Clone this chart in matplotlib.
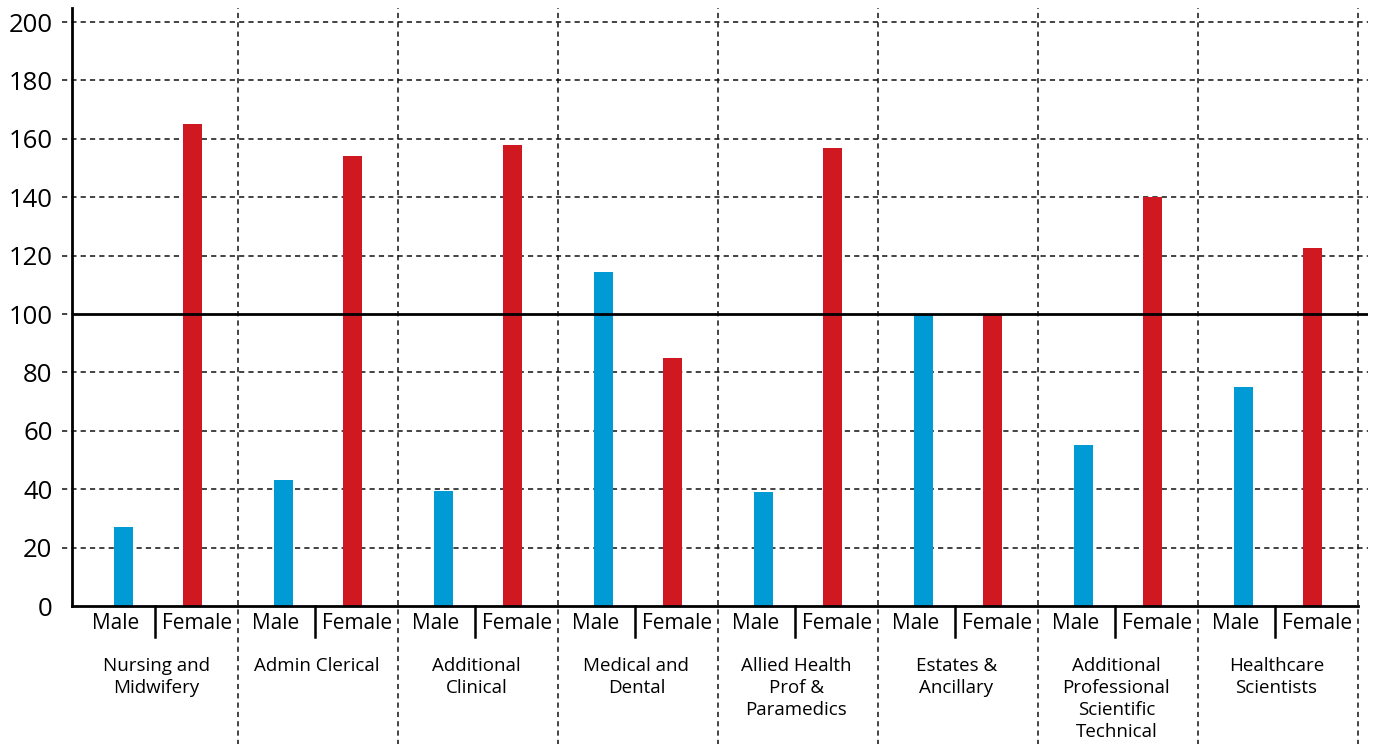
import matplotlib
matplotlib.use("Agg")
import matplotlib.pyplot as plt
import numpy as np

plt.rcParams['font.family'] = ['Open Sans', 'DejaVu Sans']

# Pay gap index by staff group (100 = parity)
groups = [
    "Nursing and\nMidwifery",
    "Admin Clerical",
    "Additional\nClinical",
    "Medical and\nDental",
    "Allied Health\nProf &\nParamedics",
    "Estates &\nAncillary",
    "Additional\nProfessional\nScientific\nTechnical",
    "Healthcare\nScientists",
]
male = [27, 43, 39.5, 114.5, 39, 100, 55, 75]
female = [165, 154, 158, 85, 157, 100, 140, 122.5]
yticks = [0, 20, 40, 60, 80, 100, 120, 140, 160, 180, 200]

blue = "#009ad4"
red = "#d01820"
dash = (0, (3.4, 2.7))

W, H = 1375, 744
fig = plt.figure(figsize=(W / 100, H / 100), dpi=100)
ax = fig.add_axes([72 / W, 1 - 606 / H, (1368 - 72) / W, (606 - 8) / H])

x0, x1 = -0.0375, 8.0625
ax.set_xlim(x0, x1)
ax.set_ylim(0, 204.8)

n = len(groups)
idx = np.arange(n)
ax.bar(idx + 0.285, male, width=0.12, color=blue, zorder=2)
ax.bar(idx + 0.715, female, width=0.12, color=red, zorder=2)

# horizontal dashed grid, poking out left of the axis like ticks
for v in yticks:
    if v in (0, 100):
        continue
    ax.plot([x0 - 10 / 160, x1], [v, v], color="#111111", lw=1.1,
            linestyle=dash, clip_on=False, zorder=1)
ax.plot([x0 - 10 / 160, x0], [100, 100], color="#111111", lw=1.1,
        linestyle=dash, clip_on=False, zorder=1)
ax.plot([x0, x1], [100, 100], color="black", lw=2.0, zorder=3)

# group separators run down through the label area
for i in range(1, n + 1):
    ax.plot([i, i], [-50, 204.8], color="#111111", lw=1.1, linestyle=dash,
            clip_on=False, zorder=1)

# small divider between Male and Female labels
for i in range(n):
    ax.plot([i + 0.48, i + 0.48], [0, -10.5], color="black", lw=1.8,
            clip_on=False, zorder=3)
    ax.text(i + 0.235, -6.0, "Male", ha="center", va="center", fontsize=15)
    ax.text(i + 0.745, -6.0, "Female", ha="center", va="center", fontsize=15)
    ax.text(i + 0.49, -17.3, groups[i], ha="center", va="top", fontsize=13.5,
            linespacing=1.3)

ax.set_yticks(yticks)
ax.set_yticklabels([str(v) for v in yticks], fontsize=18.5)
ax.tick_params(axis="y", length=0, pad=14)
ax.set_xticks([])

for s in ["top", "right"]:
    ax.spines[s].set_visible(False)
ax.spines["left"].set_linewidth(2.0)
ax.spines["bottom"].set_linewidth(2.0)
ax.spines["bottom"].set_bounds(x0, 8.0)
ax.spines["left"].set_zorder(4)
ax.spines["bottom"].set_zorder(4)

fig.savefig("out.png", dpi=100)
